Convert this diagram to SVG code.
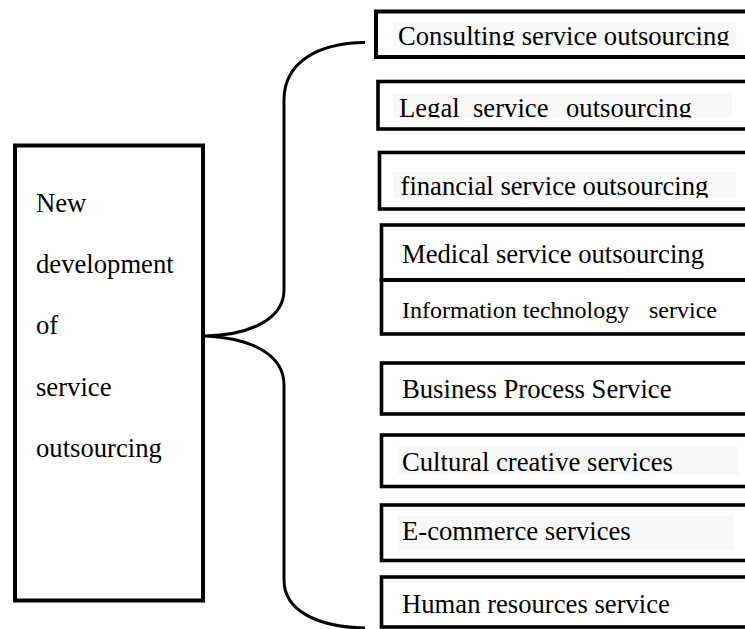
<svg xmlns="http://www.w3.org/2000/svg" width="745" height="629" viewBox="0 0 745 629">
<style>
.box{fill:#ffffff;stroke:#000000;stroke-width:4}
.bx{fill:none;stroke:#000000;stroke-width:3.6}
.t{font-family:"Liberation Serif","Times New Roman",serif;font-size:26.67px;fill:#000000}
.ts{font-family:"Liberation Serif","Times New Roman",serif;font-size:24px;fill:#000000}
.bg{fill:#f8f8f8;stroke:none}
.brace{fill:none;stroke:#000000;stroke-width:3}
</style>
<defs>
<clipPath id="c1"><rect x="380" y="14" width="360" height="31.5"/></clipPath>
<clipPath id="c2"><rect x="380" y="84" width="360" height="33.5"/></clipPath>
<clipPath id="c3"><rect x="382" y="155" width="360" height="42.8"/></clipPath>
</defs>
<rect width="745" height="629" fill="#ffffff"/>
<g id="connectors">
<path class="brace" d="M365,42.5 C318,43 284,62 284,100 L284,290 C284,318 252,335 205,336 C252,338 284,355 284,385 L284,580 C284,610 316,627 365,628"/>
</g>
<g id="root">
<rect class="box" x="15" y="145.5" width="188" height="455"/>
<text class="t" x="36" y="212">New</text>
<text class="t" x="36" y="273">development</text>
<text class="t" x="36" y="334">of</text>
<text class="t" x="36" y="396">service</text>
<text class="t" x="36" y="457">outsourcing</text>
</g>
<g id="consulting">
<rect class="bx" x="376" y="11.5" width="400" height="45.5" style="stroke-width:4"/>
<rect class="bg" x="393" y="23" width="343" height="22.5"/>
<text class="t" x="398" y="45" clip-path="url(#c1)">Consulting service outsourcing</text>
</g>
<g id="legal">
<rect class="bx" x="378" y="81.5" width="400" height="47.5"/>
<rect class="bg" x="393" y="93" width="339" height="24.5"/>
<text class="t" x="399" y="116.5" clip-path="url(#c2)"><tspan>Legal </tspan><tspan x="473">service </tspan><tspan x="566">outsourcing</tspan></text>
</g>
<g id="financial">
<rect class="bx" x="379.5" y="152.5" width="400" height="56.5"/>
<rect class="bg" x="393" y="172" width="343" height="25.8"/>
<text class="t" x="400.5" y="195" clip-path="url(#c3)">financial service outsourcing</text>
</g>
<g id="medical">
<rect class="bx" x="381.5" y="225" width="400" height="55"/>
<text class="t" x="402" y="263">Medical service outsourcing</text>
</g>
<g id="it">
<rect class="bx" x="381.5" y="280" width="400" height="54"/>
<text class="ts" x="402" y="318"><tspan>Information technology </tspan><tspan x="649">service</tspan></text>
</g>
<g id="business">
<rect class="bx" x="381.5" y="363" width="400" height="51"/>
<text class="t" x="402" y="398">Business Process Service</text>
</g>
<g id="cultural">
<rect class="bx" x="381.5" y="435" width="400" height="51.5"/>
<rect class="bg" x="398" y="447" width="341" height="28"/>
<text class="t" x="402" y="471">Cultural creative services</text>
</g>
<g id="ecommerce">
<rect class="bx" x="381.5" y="505" width="400" height="55.5"/>
<rect class="bg" x="398" y="516" width="336" height="34"/>
<text class="t" x="402" y="539.5">E-commerce services</text>
</g>
<g id="human">
<rect class="bx" x="381.5" y="577" width="400" height="50"/>
<text class="t" x="402" y="613">Human resources service</text>
</g>
</svg>
